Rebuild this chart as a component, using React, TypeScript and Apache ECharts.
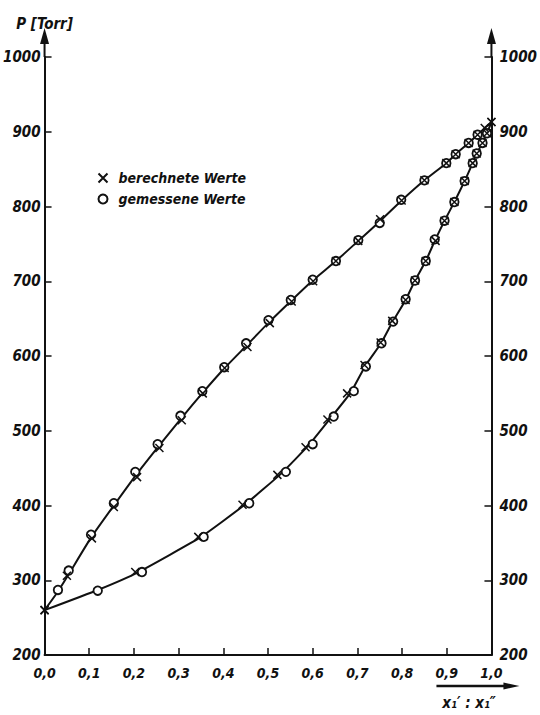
import React, { useEffect, useRef } from 'react';
import * as echarts from 'echarts';

// Upper curve (Siedelinie), computed values (x)
const upperCalcX = [0, 0.05, 0.106, 0.155, 0.207, 0.257, 0.307, 0.354, 0.403, 0.454, 0.504, 0.553, 0.601, 0.652, 0.702, 0.751, 0.799, 0.85, 0.899, 0.92, 0.949, 0.969, 0.985, 1.0];
const upperCalcP = [260, 306, 356, 398, 438, 477, 514, 550, 584, 612, 644, 673, 700, 727, 754, 783, 808, 835, 858, 870, 885, 896, 905, 913];
// Upper curve, measured values (o)
const upperMeasX = [0.03, 0.054, 0.104, 0.155, 0.203, 0.253, 0.304, 0.353, 0.402, 0.451, 0.501, 0.551, 0.6, 0.652, 0.702, 0.75, 0.798, 0.85, 0.899, 0.92, 0.949, 0.969];
const upperMeasP = [287, 313, 361, 403, 445, 482, 520, 553, 585, 617, 648, 675, 702, 727, 755, 778, 809, 835, 858, 870, 885, 896];
// Lower curve (Taulinie), computed values (x)
const lowerCalcX = [0, 0.203, 0.344, 0.443, 0.521, 0.584, 0.633, 0.677, 0.716, 0.752, 0.778, 0.808, 0.829, 0.853, 0.875, 0.895, 0.917, 0.94, 0.958, 0.967, 0.98, 0.99, 1.0];
const lowerCalcP = [260, 311, 358, 401, 441, 478, 515, 550, 588, 618, 647, 675, 701, 727, 754, 781, 806, 834, 858, 871, 885, 898, 913];
// Lower curve, measured values (o)
const lowerMeasX = [0.119, 0.218, 0.356, 0.458, 0.54, 0.6, 0.647, 0.692, 0.719, 0.754, 0.78, 0.808, 0.829, 0.853, 0.873, 0.895, 0.917, 0.94, 0.958, 0.967, 0.98, 0.99];
const lowerMeasP = [286, 311, 358, 403, 445, 482, 519, 553, 586, 617, 646, 676, 701, 727, 756, 781, 806, 834, 858, 871, 885, 898];

// Drawn curves
const upperLineX = [0, 0.03, 0.054, 0.105, 0.155, 0.205, 0.255, 0.305, 0.354, 0.403, 0.452, 0.502, 0.552, 0.6, 0.652, 0.702, 0.75, 0.799, 0.85, 0.899, 0.92, 0.949, 0.969, 0.985, 1.0];
const upperLineP = [260, 285, 308, 358, 400, 441, 479, 516, 551, 584, 614, 645, 674, 701, 727, 754, 780, 808, 835, 858, 870, 885, 896, 905, 913];
const lowerLineX = [0, 0.119, 0.21, 0.35, 0.45, 0.53, 0.59, 0.64, 0.685, 0.718, 0.753, 0.779, 0.808, 0.829, 0.853, 0.874, 0.895, 0.917, 0.94, 0.958, 0.967, 0.98, 0.99, 1.0];
const lowerLineP = [260, 287, 311, 358, 402, 443, 480, 517, 551, 587, 617, 646, 675, 701, 727, 755, 781, 806, 834, 858, 871, 885, 898, 913];

const seriesCalcName = 'berechnete Werte';
const seriesMeasName = 'gemessene Werte';
const yAxisName = 'P [Torr]';
const xAxisTitle = 'x₁′ : x₁″';

const zip = (xs: number[], ys: number[]) => xs.map((x, i) => [x, ys[i]]);

const CROSS = 'path://M0,0L10,10M10,0L0,10';

export default function App() {
  const ref = useRef<HTMLDivElement>(null);
  useEffect(() => {
    const chart = echarts.init(ref.current!, null, { renderer: 'svg' });
    const font = "'DejaVu Sans Condensed', 'Liberation Sans Narrow', sans-serif";
    const txt = { fontFamily: font, fontStyle: 'italic', fontWeight: 'bold', color: '#111' } as any;
    const ink = '#111';
    const axisCommon = {
      type: 'value',
      min: 200,
      max: 1000,
      interval: 100,
      splitLine: { show: false },
      axisLine: { show: true, lineStyle: { color: ink, width: 2 } },
      axisTick: { show: true, inside: true, length: 7, lineStyle: { color: ink, width: 1.5 } },
    };
    const lineSeries = (name: string, xs: number[], ps: number[]) => ({
      type: 'line',
      name,
      data: zip(xs, ps),
      smooth: 0.15,
      showSymbol: false,
      symbol: 'none',
      lineStyle: { color: ink, width: 2 },
      z: 2,
    });
    const option: any = {
      animation: false,
      backgroundColor: '#fff',
      grid: { left: 44, right: 48, top: 57, bottom: 60 },
      legend: {
        orient: 'vertical',
        left: 91,
        top: 166,
        itemWidth: 9,
        itemHeight: 9,
        itemGap: 7,
        data: [seriesCalcName, seriesMeasName],
        textStyle: { ...txt, fontSize: 14, padding: [0, 0, 0, 6] },
      },
      xAxis: {
        type: 'value',
        min: 0,
        max: 1,
        interval: 0.1,
        splitLine: { show: false },
        axisLine: { show: true, onZero: false, lineStyle: { color: ink, width: 2 } },
        axisTick: { show: true, inside: true, length: 7, lineStyle: { color: ink, width: 1.5 } },
        axisLabel: {
          ...txt,
          fontSize: 14,
          margin: 11,
          formatter: (v: number) => v.toFixed(1).replace('.', ','),
        },
      },
      yAxis: [
        {
          ...axisCommon,
          position: 'left',
          name: yAxisName,
          nameLocation: 'end',
          nameGap: 26,
          nameTextStyle: { ...txt, fontSize: 15, align: 'center', verticalAlign: 'bottom' },
          axisLabel: { ...txt, fontSize: 15, margin: 4, formatter: (v: number) => String(v) },
        },
        {
          ...axisCommon,
          position: 'right',
          axisLabel: { ...txt, fontSize: 15, margin: 8, formatter: (v: number) => String(v) },
        },
      ],
      series: [
        lineSeries('upper', upperLineX, upperLineP),
        lineSeries('lower', lowerLineX, lowerLineP),
        {
          type: 'scatter',
          name: seriesMeasName,
          data: [...zip(upperMeasX, upperMeasP), ...zip(lowerMeasX, lowerMeasP)],
          symbol: 'circle',
          symbolSize: 8.5,
          itemStyle: { color: '#fff', borderColor: ink, borderWidth: 1.8, opacity: 1 },
          z: 3,
        },
        {
          type: 'scatter',
          name: seriesCalcName,
          data: [...zip(upperCalcX, upperCalcP), ...zip(lowerCalcX, lowerCalcP)],
          symbol: CROSS,
          symbolSize: 8,
          itemStyle: { color: 'none', borderColor: ink, borderWidth: 1.5, opacity: 1 },
          z: 4,
        },
      ],
    };
    chart.setOption(option);

    const p0 = chart.convertToPixel({ gridIndex: 0 }, [0, 200]) as number[];
    const p1 = chart.convertToPixel({ gridIndex: 0 }, [1, 1000]) as number[];
    const pT = chart.convertToPixel({ gridIndex: 0 }, [0.95, 200]) as number[];
    const xL = p0[0];
    const xR = p1[0];
    const yB = p0[1];
    const yT = p1[1];
    const upArrow = (x: number) => [
      { type: 'line', shape: { x1: x, y1: yT, x2: x, y2: yT - 16 }, style: { stroke: ink, lineWidth: 2 } },
      { type: 'polygon', shape: { points: [[x - 4.5, yT - 13], [x, yT - 29], [x + 4.5, yT - 13]] }, style: { fill: ink } },
    ];
    const ax = yB + 31;
    chart.setOption({
      graphic: [
        ...upArrow(xL),
        ...upArrow(xR),
        { type: 'line', shape: { x1: xR - 55, y1: ax, x2: xR + 16, y2: ax }, style: { stroke: ink, lineWidth: 2.5 } },
        { type: 'polygon', shape: { points: [[xR + 12, ax - 3.5], [xR + 28, ax], [xR + 12, ax + 3.5]] }, style: { fill: ink } },
        {
          type: 'text',
          x: pT[0],
          y: yB + 48,
          style: { text: xAxisTitle, font: `italic bold 15px ${font}`, fill: ink, align: 'center', verticalAlign: 'middle' },
        },
      ],
    });

    return () => chart.dispose();
  }, []);
  return (
    <div
      ref={ref}
      style={{ position: 'fixed', left: 0, top: 0, width: 540, height: 715, background: '#fff' }}
    />
  );
}
